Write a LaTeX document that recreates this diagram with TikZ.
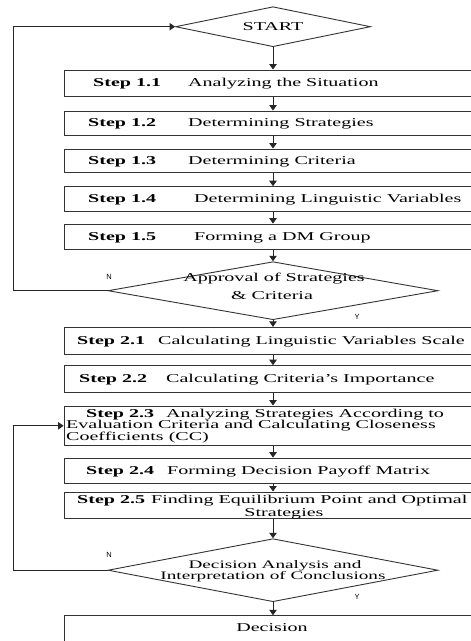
\documentclass[tikz,border=0pt]{standalone}
\usepackage{fontspec}
\setmainfont{Liberation Serif}[FakeStretch=1.67]
\newfontfamily\ynfont{Liberation Sans}
\usetikzlibrary{arrows.meta,shapes.geometric}
\begin{document}
\begin{tikzpicture}[x=1pt,y=-1pt,
  fc/.style={draw=black!80, line width=0.9pt},
  stepbox/.style={fc, rectangle, minimum width=418pt, inner sep=0pt},
  decision/.style={fc, diamond, inner sep=0pt},
  arr/.style={draw=black!85, line width=0.9pt, -{Triangle[length=5.5pt,width=7.5pt]}},
  txt/.style={anchor=base west, inner sep=0pt, font=\fontsize{12}{12}\selectfont},
  lbl/.style={anchor=base west, inner sep=0pt, font=\fontsize{12}{12}\selectfont\bfseries},
  ctxt/.style={anchor=base, inner sep=0pt, font=\fontsize{12}{12}\selectfont},
  yn/.style={inner sep=0pt, font=\ynfont\fontsize{7.5}{7.5}\selectfont}]
\fill[white] (0,0) rectangle (471,641);
\useasboundingbox (0,0) rectangle (471,641);
\clip (0,0) rectangle (471,641);

% shapes
\node[decision, minimum width=195pt, minimum height=40pt] (start) at (273,26.7) {};
\node[stepbox, minimum height=26.7pt] (b11) at (273,83.3) {};
\node[stepbox, minimum height=24pt]   (b12) at (273,123) {};
\node[stepbox, minimum height=23.7pt] (b13) at (273,160.8) {};
\node[stepbox, minimum height=24.3pt] (b14) at (273,198.8) {};
\node[stepbox, minimum height=25.3pt] (b15) at (273,236.7) {};
\node[decision, minimum width=330pt, minimum height=58pt] (d2) at (273,290.7) {};
\node[stepbox, minimum height=26.7pt] (b21) at (273,340.7) {};
\node[stepbox, minimum height=26.7pt] (b22) at (273,379) {};
\node[stepbox, minimum height=39.7pt] (b23) at (273,425.8) {};
\node[stepbox, minimum height=25.3pt] (b24) at (273,470.7) {};
\node[stepbox, minimum height=26.7pt] (b25) at (273,505.3) {};
\node[decision, minimum width=330pt, minimum height=63pt] (d3) at (273,570.2) {};
\node[stepbox, minimum height=50pt] (decb) at (273,640.7) {};

% texts
\node[ctxt] (tstart) at (273,30.5) {START};
\node[lbl] (l11) at (93,86.8) {Step 1.1};
\node[txt] (t11) at (188,86.8) {Analyzing the Situation};
\node[lbl] (l12) at (88,126.5) {Step 1.2};
\node[txt] (t12) at (188,126.5) {Determining Strategies};
\node[lbl] (l13) at (88,164.3) {Step 1.3};
\node[txt] (t13) at (188,164.3) {Determining Criteria};
\node[lbl] (l14) at (88,202.3) {Step 1.4};
\node[txt] (t14) at (194,202.3) {Determining Linguistic Variables};
\node[lbl] (l15) at (88,240.2) {Step 1.5};
\node[txt] (t15) at (194,240.2) {Forming a DM Group};
\node[ctxt] (td2a) at (274,281) {Approval of Strategies};
\node[ctxt] (td2b) at (272,299) {\& Criteria};
\node[lbl] (l21) at (77,344.2) {Step 2.1};
\node[txt] (t21) at (158,344.2) {Calculating Linguistic Variables Scale};
\node[lbl] (l22) at (79,382.5) {Step 2.2};
\node[txt] (t22) at (166,382.5) {Calculating Criteria's Importance};
\node[lbl] (l23) at (86,417) {Step 2.3};
\node[txt] (t23a) at (166,417) {Analyzing Strategies According to};
\node[txt] (t23b) at (66,428.5) {Evaluation Criteria and Calculating Closeness};
\node[txt] (t23c) at (66,440) {Coefficients (CC)};
\node[lbl] (l24) at (86,474.2) {Step 2.4};
\node[txt] (t24) at (167,474.2) {Forming Decision Payoff Matrix};
\node[lbl] (l25) at (77,503) {Step 2.5};
\node[txt] (t25a) at (151,503) {Finding Equilibrium Point and Optimal};
\node[ctxt] (t25b) at (284,516) {Strategies};
\node[ctxt, font=\fontsize{11.5}{11.5}\selectfont] (td3a) at (275,568) {Decision Analysis and};
\node[ctxt, font=\fontsize{11.5}{11.5}\selectfont] (td3b) at (273,579.3) {Interpretation of Conclusions};
\node[ctxt] (tdec) at (272,631) {Decision};

\node[yn] (n1) at (109,276.5) {N};
\node[yn] (y1) at (357,317) {Y};
\node[yn] (n2) at (109,555) {N};
\node[yn] (y2) at (357,597) {Y};

% connectors
\draw[arr] (start.south) -- (b11.north);
\draw[arr] (b11.south) -- (b12.north);
\draw[arr] (b12.south) -- (b13.north);
\draw[arr] (b13.south) -- (b14.north);
\draw[arr] (b14.south) -- (b15.north);
\draw[arr] (b15.south) -- (d2.north);
\draw[arr] (d2.south) -- (b21.north);
\draw[arr] (b21.south) -- (b22.north);
\draw[arr] (b22.south) -- (b23.north);
\draw[arr] (b23.south) -- (b24.north);
\draw[arr] (b24.south) -- (b25.north);
\draw[arr] (b25.south) -- (d3.north);
\draw[arr] (d3.south) -- (decb.north);

\coordinate (fb) at (13,0);
\draw[arr] (d2.west) -- (d2.west -| fb) |- (start.west);
\draw[arr] (d3.west) -- (d3.west -| fb) |- (b23.west);
\end{tikzpicture}
\end{document}
